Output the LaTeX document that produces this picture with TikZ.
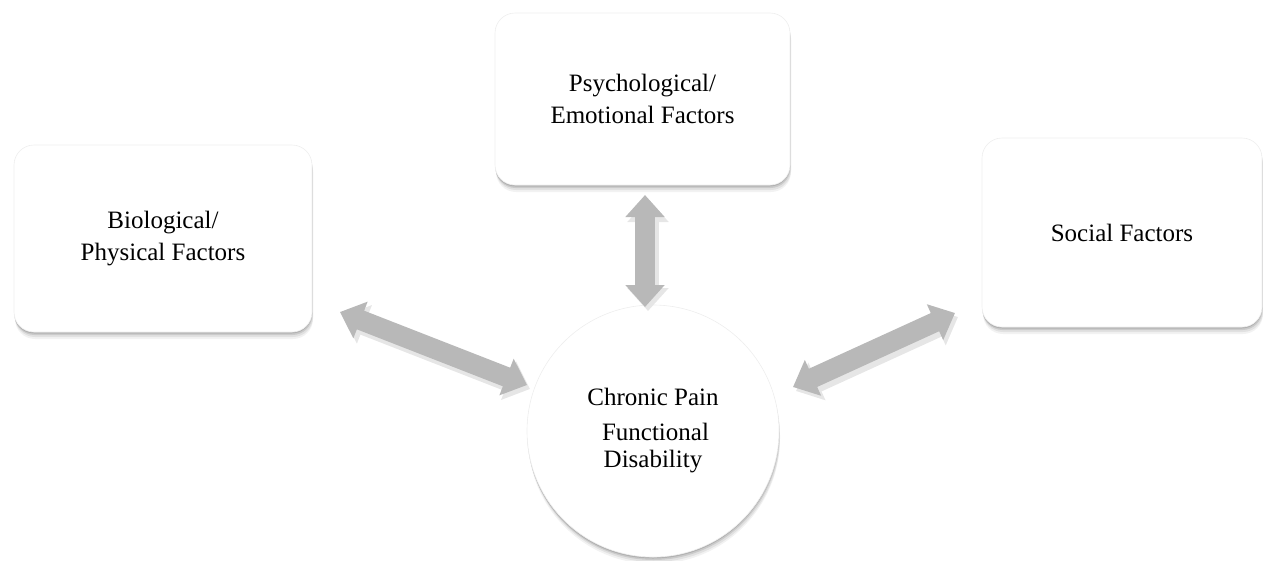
\documentclass[tikz,border=0pt]{standalone}
\usepackage{fontspec}
\setmainfont{Liberation Serif}
\usetikzlibrary{arrows.meta}
\definecolor{arrowgray}{HTML}{B8B8B8}
\definecolor{arrowshadow}{HTML}{E6E6E6}
\definecolor{edgegray}{HTML}{EEEEEE}
\tikzset{
  softshadow/.style={
    preaction={fill=black, fill opacity=0.05, transform canvas={xshift=1pt,yshift=-7pt}},
    preaction={fill=black, fill opacity=0.07, transform canvas={xshift=1pt,yshift=-5pt}},
    preaction={fill=black, fill opacity=0.10, transform canvas={xshift=0.5pt,yshift=-3pt}},
    preaction={fill=black, fill opacity=0.12, transform canvas={yshift=-1.5pt}}
  },
  factorbox/.style={rectangle, rounded corners=20pt, fill=white, draw=edgegray,
    line width=0.6pt, softshadow, align=center,
    font=\fontsize{25}{32}\selectfont},
  hub/.style={circle, fill=white, draw=edgegray, line width=0.6pt, softshadow,
    minimum size=252pt, inner sep=0pt, align=center,
    font=\fontsize{25}{27}\selectfont},
  blockarrow/.style={draw=arrowgray, line width=20pt,
    {Triangle[width=38pt,length=22pt]}-{Triangle[width=38pt,length=22pt]}},
  arrowshade/.style={draw=arrowshadow, line width=22pt,
    {Triangle[width=40pt,length=23pt]}-{Triangle[width=40pt,length=23pt]},
    transform canvas={xshift=3pt,yshift=-4pt}}
}
\begin{document}
\begin{tikzpicture}[x=1pt,y=-1pt]
\useasboundingbox (0,0) rectangle (1263,560);
\node[factorbox, minimum width=298pt, minimum height=187pt] (bio) at (163,238.5)
  {Biological/\\Physical Factors};
\node[factorbox, minimum width=295pt, minimum height=172pt] (psy) at (642.5,99)
  {Psychological/\\Emotional Factors};
\node[factorbox, minimum width=280pt, minimum height=189pt] (soc) at (1122,232.5)
  {Social Factors};
\node[hub] (pain) at (653,431) {Chronic Pain\\[8pt]\hspace*{5pt}Functional\\Disability};
\coordinate (psyend) at (645,195);
\coordinate (painT) at (645,307);
\coordinate (bioend) at (340,312);
\coordinate (painL) at (527,385);
\coordinate (socend) at (955,313);
\coordinate (painR) at (793,387);
\draw[arrowshade] (psyend) -- (painT);
\draw[arrowshade] (bioend) -- (painL);
\draw[arrowshade] (socend) -- (painR);
\draw[blockarrow] (psyend) -- (painT);
\draw[blockarrow] (bioend) -- (painL);
\draw[blockarrow] (socend) -- (painR);
\end{tikzpicture}
\end{document}
